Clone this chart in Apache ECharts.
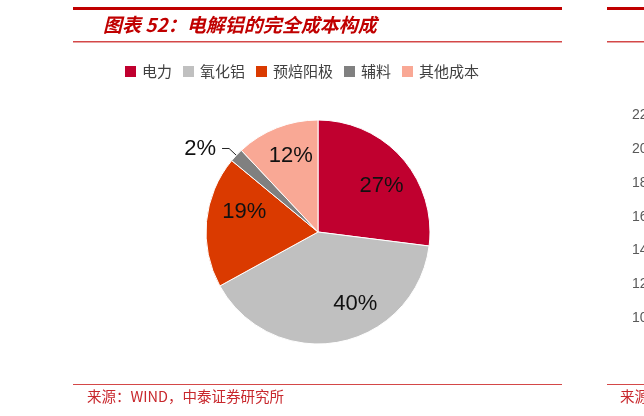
<!DOCTYPE html>
<html>
<head>
<meta charset="utf-8">
<script src="https://cdn.jsdelivr.net/npm/echarts@6/dist/echarts.min.js"></script>
<style>
html,body{margin:0;padding:0;background:#fff;}
#chart{width:644px;height:416px;}
</style>
</head>
<body>
<div id="chart"></div>
<script>
const titleText = '图表 52：电解铝的完全成本构成';
const sourceText = '来源：WIND，中泰证券研究所';
const categories = ['电力', '氧化铝', '预焙阳极', '辅料', '其他成本'];
const shares = [27, 40, 19, 2, 12];
const colors = ['#C0002F', '#C0C0C0', '#DA3A00', '#808080', '#F9A895'];
const rightTickLabels = ['22', '20', '18', '16', '14', '12', '10'];

const chart = echarts.init(document.getElementById('chart'), null, {renderer: 'canvas'});

const cjk = '"Noto Sans CJK SC", "Noto Sans", sans-serif';
const latin = '"Liberation Sans", Arial, sans-serif';

const baseData = categories.map((name, i) => {
  const item = {name: name, value: shares[i], itemStyle: {color: colors[i]}};
  if (name === '辅料') {
    item.label = {show: true, position: 'outside', formatter: '{c}%', fontSize: 22, color: '#111', fontFamily: latin, distanceToLabelLine: 6};
    item.labelLine = {show: true, length: 10, length2: 7, smooth: false, lineStyle: {color: '#222', width: 1}};
  }
  return item;
});

const labelData = categories.map((name, i) => {
  const item = {name: name, value: shares[i]};
  if (name === '辅料') item.label = {show: false};
  return item;
});

const graphics = [
  {type: 'rect', shape: {x: 73, y: 7, width: 489, height: 3}, style: {fill: '#C00000'}, silent: true},
  {type: 'rect', shape: {x: 73, y: 41, width: 489, height: 1.5}, style: {fill: '#D44848'}, silent: true},
  {type: 'rect', shape: {x: 607, y: 7, width: 37, height: 3}, style: {fill: '#C00000'}, silent: true},
  {type: 'rect', shape: {x: 607, y: 41, width: 37, height: 1.5}, style: {fill: '#D44848'}, silent: true},
  {type: 'rect', shape: {x: 73, y: 384, width: 489, height: 1}, style: {fill: '#D44848'}, silent: true},
  {type: 'rect', shape: {x: 607, y: 384, width: 37, height: 1}, style: {fill: '#D44848'}, silent: true},
  {type: 'text', x: 103, y: 25, style: {text: titleText, fill: '#C00000', font: 'italic bold 19px ' + cjk, verticalAlign: 'middle', align: 'left'}, silent: true},
  {type: 'text', x: 87, y: 396, style: {text: sourceText, fill: '#C8282D', font: '14.5px ' + cjk, verticalAlign: 'middle', align: 'left'}, silent: true},
  {type: 'text', x: 620, y: 396, style: {text: '来源', fill: '#C8282D', font: '14.5px ' + cjk, verticalAlign: 'middle', align: 'left'}, silent: true}
];
rightTickLabels.forEach((t, i) => {
  graphics.push({type: 'text', x: 632, y: 115 + 33.9 * i, style: {text: t, fill: '#595959', font: '14px ' + latin, verticalAlign: 'middle', align: 'left'}, silent: true});
});

const nudges = {'电力': [2, 8], '氧化铝': [22, -9], '预焙阳极': [8, -12], '其他成本': [3, 0]};

chart.setOption({
  animation: false,
  backgroundColor: '#fff',
  graphic: graphics,
  legend: {
    data: categories,
    left: 118,
    top: 59,
    icon: 'rect',
    itemWidth: 13,
    itemHeight: 13,
    itemGap: 9,
    textStyle: {fontSize: 15, color: '#404040', fontFamily: cjk}
  },
  series: [
    {
      type: 'pie',
      center: [318, 232],
      radius: [0, 112],
      startAngle: 90,
      clockwise: true,
      avoidLabelOverlap: false,
      data: baseData,
      itemStyle: {borderColor: '#fff', borderWidth: 1},
      label: {show: false},
      labelLine: {show: false},
      emphasis: {disabled: true}
    },
    {
      type: 'pie',
      center: [318, 232],
      radius: [46, 112],
      startAngle: 90,
      clockwise: true,
      silent: true,
      legendHoverLink: false,
      data: labelData,
      itemStyle: {color: 'rgba(0,0,0,0)', borderWidth: 0},
      label: {show: true, position: 'inside', formatter: '{c}%', fontSize: 22, color: '#111', fontFamily: latin},
      labelLine: {show: false},
      labelLayout: function (p) {
        const n = nudges[categories[p.dataIndex]];
        return n ? {dx: n[0], dy: n[1]} : {};
      },
      emphasis: {disabled: true}
    }
  ]
});
</script>
</body>
</html>
